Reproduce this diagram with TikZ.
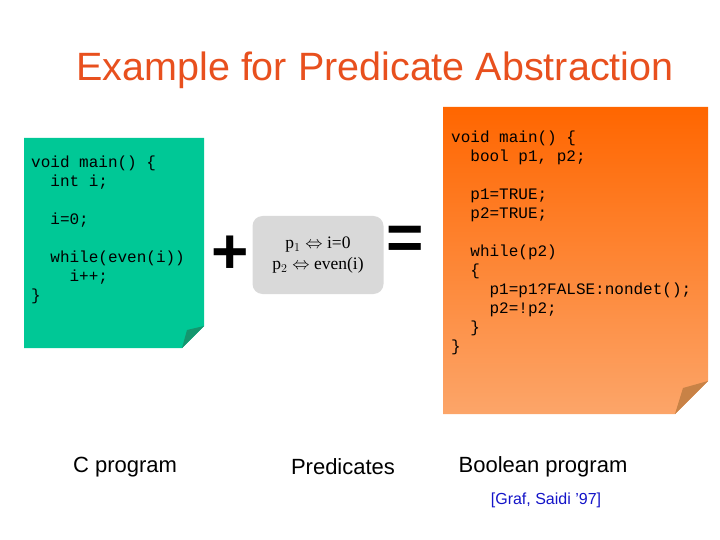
\documentclass[tikz,border=0pt]{standalone}
\usepackage{fontspec}
\setmainfont{Liberation Sans}
\setmonofont{Liberation Mono}
\newfontfamily\serifpred{Liberation Serif}
\usetikzlibrary{positioning}
\definecolor{titlered}{RGB}{232,80,30}
\definecolor{notegreen}{RGB}{0,200,150}
\definecolor{foldgreen}{RGB}{20,150,110}
\definecolor{orangetop}{RGB}{255,102,0}
\definecolor{orangebot}{RGB}{252,165,105}
\definecolor{foldorange}{RGB}{200,130,70}
\definecolor{citeblue}{RGB}{20,20,200}
\tikzset{
    code/.style={anchor=north west, align=left, inner sep=0pt,
        font=\ttfamily\fontsize{16}{19}\selectfont},
    caption/.style={font=\fontsize{22}{26}\selectfont},
    bigop/.style={font=\bfseries\fontsize{64}{64}\selectfont}
}
\newcommand{\ind}{\phantom{xx}}
\begin{document}
\begin{tikzpicture}[x=1pt, y=-1pt]
    \useasboundingbox (0,0) rectangle (720,540);
    % Title
    \node[font=\fontsize{39.5}{44}\selectfont, text=titlered] (title) at (375,70) {Example for Predicate Abstraction};

    % C program note
    \fill[notegreen] (24,138) -- (204,138) -- (204,326) -- (182,348) -- (24,348) -- cycle;
    \fill[foldgreen] (182,348) -- (204,326) -- (187,330) -- cycle;
    \node[code] (cprog) at (31,156) {void main() \{\\
\ind int i;\\[19pt]
\ind i=0;\\[19pt]
\ind while(even(i))\\
\ind\ind i++;\\
\}};

    % Predicates
    \node[bigop] (plus) at (230,255) {+};
    \node[fill=black!15, rounded corners=10pt, minimum width=131pt, minimum height=78pt,
          align=center, font=\serifpred\fontsize{17.5}{21}\selectfont] (preds) at (318,255)
          {p$_1 \Leftrightarrow$ i=0\\ p$_2 \Leftrightarrow$ even(i)};
    \node[bigop] (equals) at (405,243) {=};

    % Boolean program note
    \shade[top color=orangetop, bottom color=orangebot]
        (443,107) -- (708,107) -- (708,381) -- (675,414) -- (443,414) -- cycle;
    \fill[foldorange] (675,414) -- (708,381) -- (683,388) -- cycle;
    \node[code] (bprog) at (451,131) {void main() \{\\
\ind bool p1, p2;\\[19pt]
\ind p1=TRUE;\\
\ind p2=TRUE;\\[19pt]
\ind while(p2)\\
\ind \{\\
\ind\ind p1=p1?FALSE:nondet();\\
\ind\ind p2=!p2;\\
\ind \}\\
\}};

    % Captions
    \node[caption] (ccap) at (125,467) {C program};
    \node[caption] (pcap) at (343,467) {Predicates};
    \node[caption] (bcap) at (543,467) {Boolean program};
    \node[text=citeblue, font=\fontsize{16}{18}\selectfont] (cite) at (546,500) {[Graf, Saidi ’97]};
\end{tikzpicture}
\end{document}
